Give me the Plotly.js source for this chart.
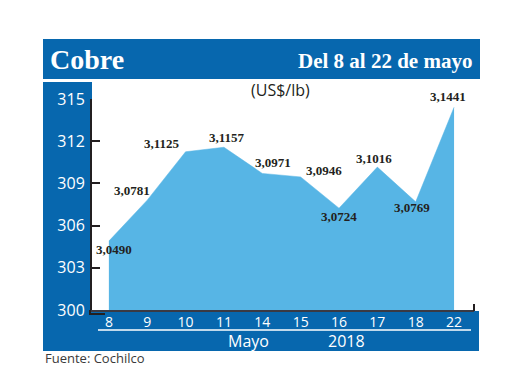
<!DOCTYPE html>
<html>
<head>
<meta charset="utf-8">
<script src="https://cdn.plot.ly/plotly-3.0.1.min.js"></script>
<style>html,body{margin:0;padding:0;background:#fff;}#chart{width:520px;height:390px;}</style>
</head>
<body>
<div id="chart"></div>
<script>
// ---- data ----
const days = ["8", "9", "10", "11", "14", "15", "16", "17", "18", "22"];
const prices = [3.0490, 3.0781, 3.1125, 3.1157, 3.0971, 3.0946, 3.0724, 3.1016, 3.0769, 3.1441]; // US$/lb
const yTicks = [300, 303, 306, 309, 312, 315];
const monthLabel = "Mayo";
const yearLabel = "2018";
const title = "Cobre";
const subtitle = "Del 8 al 22 de mayo";
const unitLabel = "(US$/lb)";
const source = "Fuente: Cochilco";

// label offsets (px) from each point
const labelDx = [5, -15, -24, 3, 11, 23, 0, -3, -4, -6];
const labelDy = [-8, 10, 8, 10, 11, 6, -8, 9, -6, 11];

// ---- layout helpers ----
const L = 92, R = 474, T = 99, B = 310;
const px = p => (p - L) / (R - L);
const py = p => (B - p) / (B - T);

const BLUE = "#0767ae";
const AREA = "#57b5e5";
const DARK = "#231f20";

const yVals = prices.map(p => p * 100);
const fmt = p => p.toFixed(4).replace(".", ",");

const trace = {
  type: "scatter",
  mode: "lines",
  x: days,
  y: yVals,
  fill: "tozeroy",
  fillcolor: AREA,
  line: {color: AREA, width: 0.5},
  hoverinfo: "skip"
};

const rect = (x0, y0, x1, y1, color) => ({
  type: "rect", xref: "paper", yref: "paper", layer: "below",
  x0: px(x0), x1: px(x1), y0: py(y1), y1: py(y0),
  fillcolor: color, line: {width: 0}
});

const shapes = [
  rect(43, 39, 480, 79, BLUE),
  rect(43, 82, 92, 351, BLUE),
  rect(43, 311, 479, 351, BLUE),
  {type: "line", xref: "paper", yref: "paper", layer: "below",
   x0: px(98), x1: px(471), y0: py(330), y1: py(330), line: {color: "#ffffff", width: 1.5}},
  {type: "line", xref: "paper", yref: "paper",
   x0: px(474), x1: px(474), y0: py(304), y1: py(311), line: {color: DARK, width: 2}},
  {type: "path", xref: "paper", yref: "paper",
   path: `M ${px(90)} ${py(310)} L ${px(90)} ${py(314)} L ${px(105)} ${py(314)}`,
   line: {color: DARK, width: 2}}
];

const annotations = [
  {text: "<b>" + title + "</b>", xref: "paper", yref: "paper", x: px(48), y: py(59),
   xanchor: "left", yanchor: "middle", showarrow: false,
   font: {family: "Liberation Serif, DejaVu Serif, serif", size: 28, color: "#ffffff"}},
  {text: "<b>" + subtitle + "</b>", xref: "paper", yref: "paper", x: px(474), y: py(61),
   xanchor: "right", yanchor: "middle", showarrow: false,
   font: {family: "Liberation Serif, DejaVu Serif, serif", size: 21, color: "#ffffff"}},
  {text: unitLabel, xref: "paper", yref: "paper", x: px(280), y: py(90),
   xanchor: "center", yanchor: "middle", showarrow: false,
   font: {family: "Open Sans, sans-serif", size: 16, color: DARK}},
  {text: monthLabel, xref: "paper", yref: "paper", x: px(248), y: py(341),
   xanchor: "center", yanchor: "middle", showarrow: false,
   font: {family: "Open Sans, sans-serif", size: 16, color: "#ffffff"}},
  {text: yearLabel, xref: "paper", yref: "paper", x: px(346), y: py(341),
   xanchor: "center", yanchor: "middle", showarrow: false,
   font: {family: "Open Sans, sans-serif", size: 16, color: "#ffffff"}},
  {text: source, xref: "paper", yref: "paper", x: px(43), y: py(358),
   xanchor: "left", yanchor: "middle", showarrow: false,
   font: {family: "Open Sans, sans-serif", size: 13, color: "#3a3a3a"}}
];

days.forEach((d, i) => {
  annotations.push({
    text: "<b>" + fmt(prices[i]) + "</b>", xref: "x", yref: "y", x: i, y: yVals[i],
    xshift: labelDx[i], yshift: labelDy[i], xanchor: "center", yanchor: "middle",
    showarrow: false,
    font: {family: "Liberation Serif, Times New Roman, serif", size: 13, color: DARK}
  });
});

const layout = {
  width: 520, height: 390,
  margin: {l: L, r: 520 - R, t: T, b: 390 - B, pad: 0},
  paper_bgcolor: "#ffffff", plot_bgcolor: "#ffffff",
  showlegend: false,
  xaxis: {
    type: "category", categoryorder: "array", categoryarray: days,
    range: [-0.44, 9.52], showgrid: false, zeroline: false,
    showline: true, linecolor: "#3a3a44", linewidth: 2,
    ticks: "", ticklabelstandoff: -2,
    tickfont: {family: "Open Sans, sans-serif", size: 14, color: "#ffffff"},
    fixedrange: true
  },
  yaxis: {
    range: [300, 315], tickvals: yTicks, ticktext: yTicks.map(String),
    showgrid: false, zeroline: false,
    showline: true, linecolor: DARK, linewidth: 2,
    ticks: "inside", ticklen: 8, tickwidth: 2, tickcolor: DARK,
    ticklabelstandoff: 2,
    tickfont: {family: "Open Sans, sans-serif", size: 16, color: "#ffffff"},
    fixedrange: true
  },
  shapes: shapes,
  annotations: annotations
};

Plotly.newPlot("chart", [trace], layout, {displayModeBar: false, staticPlot: true});
</script>
</body>
</html>
